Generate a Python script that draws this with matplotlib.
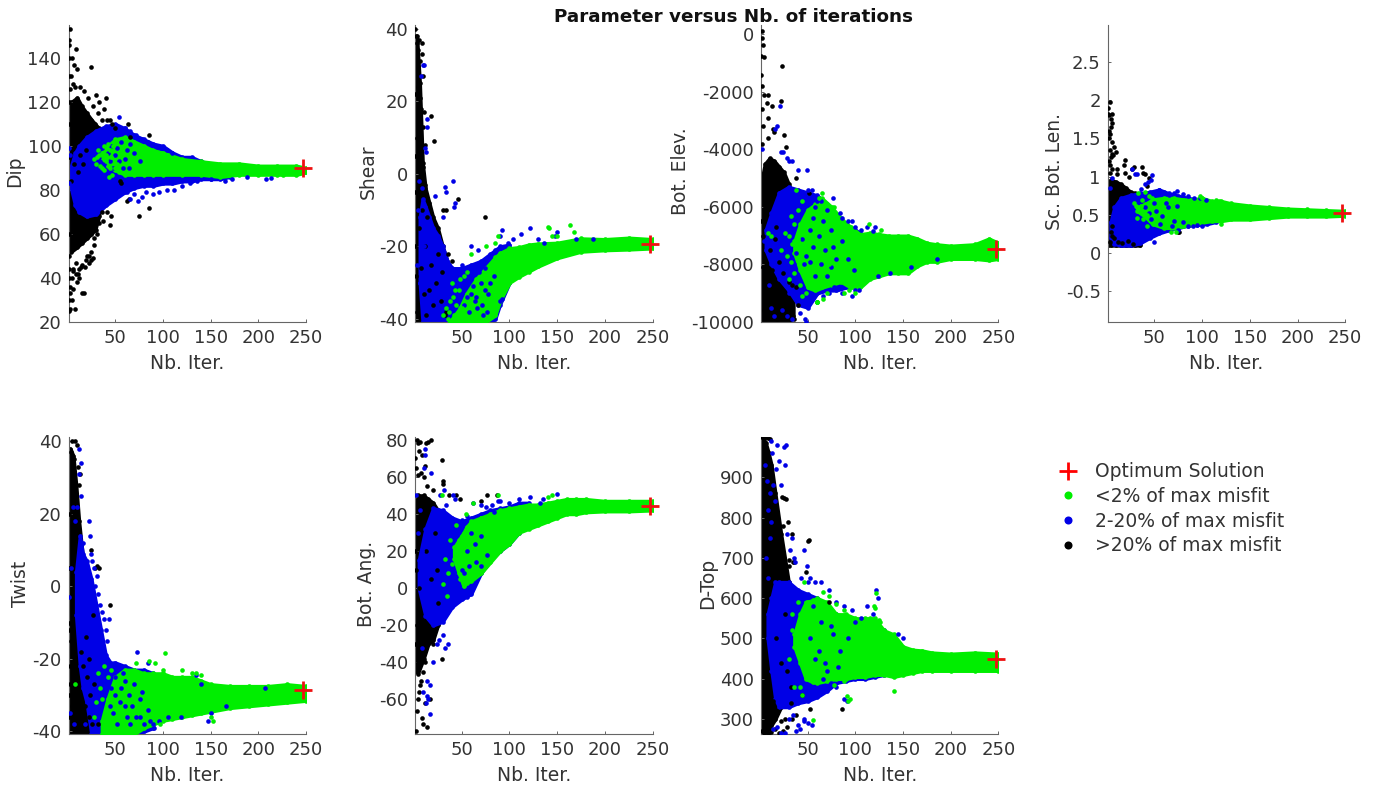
import matplotlib
matplotlib.use("Agg")
import matplotlib.pyplot as plt
from matplotlib.lines import Line2D

GREEN = "#00ee00"
BLUE = "#0000e6"
BLACK = "#000000"

# every band is (iteration, low, high); dots are (iteration, value)
DIP_BLACK_BAND = ([1,4,10,15,20,25,29,33], [52,52,54,56,58,60,62,68], [112,120,122,118,115,112,110,108])
DIP_BLUE_BAND = ([3,8,12,20,30,40,50,60,70,80,90,100,110,120,130,140,150,160,170],
                 [82,73,70,68,69,73,76,79,81,82,82,83,83,84,84,85,85,85,86],
                 [90,97,100,104,107,109,110,108,105,103,101,100,97,95,95,93,92,91,89])
DIP_GREEN_BAND = ([36,42,50,60,70,80,90,100,120,140,160,180,200,220,240,250],
                  [95,91,89,87,87,87,87,87,87,87,86,87,87,87,87,88],
                  [97,100,103,104,102,100,98,97,94,93,92,92,91,91,91,90])
DIP_BLACK_DOTS = ([1,1,1,1,1,1,1,1,3,5,7,9,10,25,4,6,30,40,33,38,45,63,85,66,47,50,85,75,45,46,41,36,30,28,27,25,17,15,8,3,1,5,6,3,5,9,12,14,10,18,20,22,25,62,64,56,55,2,2,4,7,11,13,16,19,1,3,6,9,12,3,8,13,17,21,27,32,36,41,2,6,11,15,19,23,28,31,33,37],
                  [148,140,132,120,60,50,40,30,153,140,137,144,135,136,132,128,123,122,120,117,112,110,105,104,110,108,72,68,64,68,70,70,62,55,49,48,33,33,26,26,25,30,35,33,40,42,40,45,38,45,50,47,52,75,76,83,84,146,110,84,92,88,96,92,98,95,36,44,47,44,126,127,127,125,122,118,115,112,112,44,43,42,46,48,50,58,60,65,66])
DIP_BLUE_DOTS = ([54,60,66,72,78,84,92,98,104,110,62,66,70,74,78,82,90,96,104,112,120,128,136,150,165,172,188,208,213,2,3,1,38,42,46,50,44,52,56,60,48,54,62,58,66,40,64,70,76,36,33],
                 [113,108,107,105,103,102,100,99,98,97,79,76,78,75,77,79,78,79,80,80,82,83,84,85,84,85,86,85,85.5,99,96,83,92,97,100,96,93,99,102,94,90,93,98,90,101,88,90,97,93,99,95])
DIP_GREEN_DOTS = ([28,32,34,36,38,40,42,44,36,40,33,226,46,48,52,50,44,30,31,38,47,54,43],
                  [94,98,91,96,100,93,101,90,90,96,96,87,95,100,92,90,98,92,95,89,87,88,86])

SHEAR_BLACK_BAND = ([1,3,6,9,12,16,20,25,30,36],
                    [-40.8,-40.8,-40.8,-40.8,-40.8,-40.8,-40.8,-40.8,-40.8,-40.8],
                    [30,38,25,3,-4,-8,-12,-15,-20,-25])
SHEAR_BLUE_BAND = ([6,9,12,16,20,25,30,35,40,50,60,70,80,85,90,100],
                   [-30,-40.8,-40.8,-40.8,-40.8,-40.8,-40.8,-40.8,-40.8,-40.8,-40.8,-40.8,-40.8,-40,-36,-30],
                   [-12,-7,-9,-12,-15,-17,-20,-24,-26,-26,-25,-24,-22,-21,-20,-19.5])
SHEAR_GREEN_BAND = ([38,48,55,65,75,85,90,100,110,120,130,150,175,200,225,250],
                    [-40.8,-40.8,-40.8,-40.8,-40.8,-39,-35,-30,-28.3,-26.9,-25.5,-23.2,-21.4,-21,-20.8,-20.5],
                    [-40.5,-37,-33,-29,-26,-23,-21.8,-20.5,-20.2,-19.5,-19.2,-19,-17.8,-18,-17.6,-18])
SHEAR_BLACK_DOTS = ([1,2,3,4,5,6,8,8,9,4,6,7,9,10,11,18,21,6,9,30,34,46,74,40,36,3,2,1,1,3,5,7,10,13,1,1,11,14,18,23,28,32,8,12,16,20,25,29,34],
                    [40,38,36,34,37,31,36,33,27,24,21,18,13,17,8,16,9,4,2,-10,-10,-7,-12,-24,-22,-38,-28,-5,-20,10,-15,-26,-33,-39,22,5,-3,-12,-25,-30,-35,-39,-10,-20,-32,-36,-22,-27,-38])
SHEAR_BLUE_DOTS = ([9,10,7,14,14,13,11,41,32,33,22,43,42,30,50,60,67,74,90,92,98,104,112,122,130,136,150,148,170,188,90,92,42,52,60,66,72,46,56,64,70,76,5,8,4,10,3,6,55,62,68,74,80,50,58,65,71,78,84],
                   [30,30,27,15,13,6,7,-2,-3.5,-5,-6,-8,-9,-12,-25,-20,-21,-26,-17,-15.5,-19,-18,-16.5,-15,-18,-19,-16,-17,-18,-18,-35,-34.5,-31,-36,-33,-37,-39,-28,-29,-35,-30,-38,-2,-4,-10,-20,-25,-30,-34,-31,-27,-32,-30,-30,-38,-34,-36,-33,-28])
SHEAR_GREEN_DOTS = ([37,41,44,47,50,46,42,36,40,75,85,88,140,142,163,168,150,145,60,33,38,43,48,52,55,30],
                    [-38,-34,-36,-32,-37,-40,-39,-40,-30,-20,-19,-17,-14.5,-15,-14,-16,-17,-17,-22,-37,-35,-32,-29,-28,-27,-39])

ELEV_BLACK_BAND = ([1,5,10,15,20,25,30,35],
                   [-10000,-10000,-10000,-10000,-10000,-10000,-10000,-9800],
                   [-5200,-4500,-4300,-4400,-4600,-4800,-5200,-5600])
ELEV_BLUE_BAND = ([6,12,20,30,40,50,60,70,80,90,100,110,120],
                  [-7500,-8000,-8500,-8900,-9400,-9500,-9000,-8900,-8900,-8800,-8700,-8500,-8300],
                  [-6800,-6200,-5500,-5300,-5400,-5500,-5600,-5900,-6300,-6600,-6800,-7000,-7100])
ELEV_GREEN_BAND = ([36,42,50,58,65,75,85,95,105,115,125,135,145,155,165,175,185,200,225,240,250],
                   [-7600,-8200,-8800,-8900,-8800,-8700,-8600,-8800,-8800,-8500,-8400,-8300,-8300,-8300,-8050,-7900,-7900,-7800,-7800,-7850,-7800],
                   [-7200,-6600,-6100,-5900,-5700,-6000,-6400,-6700,-6950,-6900,-6950,-7000,-7000,-7000,-7100,-7250,-7300,-7350,-7300,-7100,-7250])
ELEV_BLACK_DOTS = ([2,2,3,1,1,4,2,4,2,8,13,8,7,3,23,15,22,8,2,14,25,27,1,3,5,10,13,17,20,24,28,30,32,4,8,12,16,20,25,32,38,38,51,16,20,24,7,3,11,18,33,36,40],
                   [120,-120,-350,-750,-1400,-800,-1800,-2100,-2600,-2900,-2500,-2100,-2400,-3200,-1100,-3400,-2300,-3600,-3800,-3300,-3500,-3900,-6500,-7000,-6000,-7500,-8200,-6700,-8800,-9100,-9500,-8600,-9900,-9600,-9200,-8900,-9400,-9700,-9800,-9300,-8800,-5000,-5500,-7100,-7900,-8300,-8500,-8100,-9600,-9900,-8700,-9900,-9400])
ELEV_BLUE_DOTS = ([21,18,16,22,24,28,30,34,40,49,50,54,60,64,70,76,84,86,92,96,100,106,112,118,120,60,66,72,78,86,96,100,104,124,136,158,186,52,56,48,44,46,40,38,36,30,42,47,2,4,12,9,15,23,28,34,48,56,62,68,74,80,86,52,58,64,70,76,92,98,58,66,74],
                  [-2500,-3200,-3300,-4100,-4100,-4300,-4400,-4400,-4700,-4700,-5400,-5400,-5800,-5800,-6100,-5700,-6200,-6400,-6500,-6500,-6700,-6800,-6700,-6850,-6700,-9300,-9100,-9000,-8800,-9000,-9100,-8900,-8900,-8400,-8300,-8100,-7800,-6800,-7400,-7700,-7100,-8000,-8500,-7600,-8000,-9000,-9700,-9900,-4000,-7200,-9500,-8700,-9800,-9600,-9800,-9900,-10000,-6400,-7000,-7500,-6800,-7800,-7200,-7900,-8400,-8000,-8400,-7400,-7800,-8200,-6000,-6500,-8100])
ELEV_GREEN_DOTS = ([38,40,36,34,32,44,60,62,65,66,70,88,93,100,114,127,60,58,8,12,22,30,26,72,60,78,28,32,40,44,30,36,42,48],
                   [-5400,-7100,-6600,-7300,-7900,-9100,-9300,-5700,-5500,-9200,-9000,-9000,-8900,-9000,-6600,-6800,-9300,-6600,-6900,-7000,-7500,-7000,-6900,-8000,-9300,-6000,-7700,-6300,-6100,-5800,-8500,-8300,-8700,-9000])

SC_BLACK_BAND = ([1,4,10,15,20,25,30,35], [.1,.1,.1,.1,.1,.1,.1,.1], [.9,.96,.93,.9,.85,.8,.78,.72])
SC_BLUE_BAND = ([4,8,15,25,35,45,55,65,75,85,95,105,115],
                [.2,.12,.1,.1,.13,.2,.26,.3,.33,.36,.37,.38,.41],
                [.4,.6,.72,.76,.78,.8,.83,.78,.75,.72,.7,.68,.64])
SC_GREEN_BAND = ([32,40,48,60,70,80,90,100,110,120,130,150,170,190,210,230,250],
                 [.55,.48,.38,.33,.33,.35,.37,.4,.42,.42,.44,.44,.46,.48,.48,.48,.49],
                 [.6,.64,.7,.72,.72,.7,.7,.72,.68,.68,.65,.62,.6,.58,.57,.56,.55])
SC_BLACK_DOTS = ([3,1,1,2,4,5,2,4,6,2,3,6,5,3,10,8,2,4,3,5,19,18,11,11,19,27,29,37,38,23,40,44,42,7,3,3,5,4,6,8,12,75,76,16,22,28],
                 [1.98,1.9,1.82,1.8,1.75,1.7,1.6,1.65,1.82,1.5,1.55,1.45,1.3,1.35,1.32,1.38,1.2,1.25,1.15,1.1,1.22,1.15,1.03,1.1,1.05,1.1,1.12,1.12,1.05,1.0,1.03,.98,.88,1.28,1.05,.14,.22,.28,.35,.2,.15,.27,.28,.13,.16,.12])
SC_BLUE_DOTS = ([26,30,32,47,46,43,40,36,50,55,60,65,70,74,80,85,92,98,104,75,85,90,95,100,50,3,6,40,46,52,58,64,70,44,50,56,62,68,74,80],
                [1.1,1.04,1.04,1.02,.96,.93,.9,.84,.78,.82,.8,.76,.78,.81,.77,.75,.72,.72,.7,.3,.36,.35,.37,.36,.14,.85,.98,.6,.45,.55,.48,.6,.42,.52,.65,.38,.66,.36,.62,.4])
SC_GREEN_DOTS = ([33,37,40,34,29,31,36,67,73,98,100,115,118,120,38,42,32,44,47,42],
                 [.78,.7,.8,.58,.66,.62,.62,.27,.27,.74,.72,.7,.68,.38,.45,.5,.46,.75,.72,.36])

TWIST_BLACK_BAND = ([1,3,6,9,12,16,20,24,28,33],
                    [-40.7,-40.7,-40.7,-40.7,-40.7,-40.7,-40.7,-40.7,-40.7,-40.7],
                    [34,38,36,28,18,8,0,-8,-14,-22])
TWIST_BLUE_BAND = ([9,13,16,20,25,30,35,40,45,50,60,70,80,90],
                   [-8,-22,-28,-32,-40.7,-40.7,-40.7,-40.7,-40.7,-40.7,-40.7,-40.7,-40,-39],
                   [4,14,9,7,2,-5,-12,-19,-21,-21,-22,-23,-23,-24])
TWIST_GREEN_BAND = ([36,42,50,60,70,80,90,100,110,120,130,140,150,170,190,210,230,250],
                    [-40.7,-40.7,-40.7,-40.7,-40.7,-39,-38,-37,-36.5,-36,-35.5,-35,-34.5,-33.5,-33,-32.5,-32,-31.5],
                    [-37,-31,-25,-23,-23,-24,-24,-24,-25,-25,-25,-26,-27,-27.5,-27.5,-27.5,-27,-27.5])
TWIST_BLACK_DOTS = ([5,8,10,4,7,11,13,12,29,31,33,45,27,25,2,3,1,1,1,3,5,9,12,18,22,26,4,7,10,20,24,1,1,14,16,19,23,28,32],
                    [40,40,39,37,35,33,31,28,5,5.5,5,-5,-8,10,-12,-22,-30,-36,20,-27,-33,-38,-37,-33,-36,-38,-15,-25,-36,-25,-30,5,-10,-18,-22,-14,-20,-27,-38])
TWIST_BLUE_DOTS = ([12,14,12,14,10,8,22,24,25,26,28,31,34,36,38,40,41,43,29,32,73,84,90,91,96,105,119,147,166,207,140,76,80,86,4,2,3,6,16,18,7,50,56,62,68,58,48,64,52,60,135,150,55,70,76,46,66,72,44,50,60,78,84],
                   [38,34,31,25,22,18,18,14,9,7,5,3,-5,-7,-9,-12,-15,-9,0,-2,-18,-21,-38,-39,-37,-36,-36,-37,-33,-28,-27,-36,-38,-37,5,-3,-35,22,12,-38,-38,-30,-28,-36,-33,-24,-35,-30,-38,-26,-24.5,-35,-32,-27,-31,-28,-38,-36,-33,-25,-33,-29,-34])
TWIST_GREEN_DOTS = ([102,92,85,72,100,120,135,150,152,97,38,34,40,30,44,8,130,140,32,36,42,46,28],
                    [-18.5,-21,-20.5,-21,-23,-23,-24,-36,-37,-38,-22,-28,-34,-32,-36,-27,-24,-24.5,-24,-31,-25,-23,-36])

ANG_BLACK_BAND = ([1,4,10,15,20,25,30], [-44,-46,-38,-30,-28,-20,-15], [42,50,50,48,46,42,40])
ANG_BLUE_BAND = ([5,12,20,30,40,50,60,70,80,90,100,110,120],
                 [0,-15,-20,-18,-10,-6,-3,8,15,20,24,30,34],
                 [15,32,43,42,38,36,38,40,42,43,44,46,46])
ANG_GREEN_BAND = ([42,47,52,55,60,70,80,90,100,110,120,130,140,150,160,170,180,200,225,250],
                  [16,8,1,3,4,8,14,20,24,30,32,34,36,38,40,40,41,41.5,41.5,42],
                  [22,26,30,33,36,38,40,42,43,44,45,45,46,47,48,48,48,47,47,47])
ANG_BLACK_DOTS = ([3,4,6,13,15,18,29,30,5,8,11,2,4,7,10,14,20,30,37,44,48,70,76,87,29,1,2,3,4,5,6,7,8,9,11,14,17,1,1,1,4,9,7,3,2,5,20,12,16,13,18,22,25,24],
                  [80,78,79,78,79,80,69,58,74,72,66,65,61,62,60,55,53,56,50,50,48,47,50,50,-38,-80,-77,-66,-60,-56,-52,-50,-70,-73,-62,-75,-60,70,20,-30,-40,-45,-35,-20,10,0,-30,-40,-28,20,5,30,-8,10])
ANG_BLUE_DOTS = ([11,12,10,18,27,31,34,41,43,50,56,62,70,75,82,88,84,90,100,110,122,135,150,132,14,17,14,15,13,9,17,20,24,26,30,32,36,2,4,8,36,45,55,40,50,21,30,55,60,65,70,76,52,58,64,70,8,6],
                 [75,72,65,62,50,53,45,50,48,37,39,46,45,44,45,47,41,47,46,48,49,48,51,46,-50,-52,-58,-60,-62,-56,-68,-40,-30,-28,-25,-32,-30,50,30,-32,15,5,-5,0,10,-10,-5,20,30,14,28,18,8,12,24,12,20,42])
ANG_GREEN_DOTS = ([29,54,62,88,140,145,70,40,45,36,30,48,50,32,38,44,35],
                  [50,40,46,50,49,50,38,13,22,8,2,5,28,16,26,34,-4])

TOP_BLACK_BAND = ([1,3,6,9,12,16,22,30], [300,265,270,275,285,300,330,400], [920,1000,985,960,930,860,760,640])
TOP_BLUE_BAND = ([8,12,16,20,30,40,50,60,70,80,90,100,110,120,130,140,150],
                 [500,420,350,330,330,340,345,355,370,390,395,400,400,405,410,415,425],
                 [560,600,640,640,640,620,610,600,580,560,550,540,540,530,520,500,465])
TOP_GREEN_BAND = ([36,42,48,55,60,70,80,90,100,110,120,130,140,150,160,170,180,200,225,250],
                  [480,440,400,392,390,395,400,400,405,405,410,410,405,410,415,420,420,420,420,420],
                  [510,560,590,595,600,590,560,560,550,550,550,520,510,480,472,470,465,462,465,462])
TOP_BLACK_DOTS = ([2,4,6,8,10,23,25,27,24,29,30,35,50,51,48,34,30,36,86,72,5,8,11,16,20,24,28,33,38,6,10,14,18,22,26,32,44,52,4,8,12,2,17,22,26,28,32],
                  [1000,998,1000,998,995,850,848,845,780,790,695,690,742,745,665,760,680,690,325,590,270,265,268,275,265,270,280,300,310,350,330,345,320,295,300,340,360,325,260,262,290,270,500,440,560,420,380])
TOP_BLUE_DOTS = ([11,13,18,25,27,20,17,14,26,10,8,12,16,22,28,34,31,36,37,46,49,52,43,46,50,58,64,72,80,88,96,100,106,112,118,122,124,145,150,88,91,66,74,80,46,50,54,42,38,30,26,22,18,14,35,40,46,5,7,10,6,8,52,58,64,70,76,84,56,62,68,74,82,92],
                 [990,960,980,975,980,940,920,880,930,860,820,790,840,880,760,750,720,700,690,720,680,650,650,600,640,640,640,620,590,580,570,540,550,580,560,620,600,510,500,350,345,400,390,380,300,290,285,275,270,300,265,265,280,275,310,285,295,930,890,750,700,650,500,450,540,420,510,470,580,470,440,530,430,500])
TOP_GREEN_DOTS = ([122,119,120,115,125,126,94,91,92,55,50,66,72,80,88,118,46,44,38,42,34,140,88,78,30,33,40,36,44],
                  [612,580,575,550,545,540,350,357,345,297,590,615,605,585,570,530,640,545,500,380,560,370,395,385,450,520,590,380,360])

OPT_ITER = 247
PANELS = [
    ("Dip", 90, (20,155), [20,40,60,80,100,120,140], (68.5,25), DIP_BLACK_BAND, DIP_BLUE_BAND, DIP_GREEN_BAND, DIP_BLACK_DOTS, DIP_BLUE_DOTS, DIP_GREEN_DOTS, 15),
    ("Shear", -19.3, (-40.8,41), [-40,-20,0,20,40], (415,25), SHEAR_BLACK_BAND, SHEAR_BLUE_BAND, SHEAR_GREEN_BAND, SHEAR_BLACK_DOTS, SHEAR_BLUE_DOTS, SHEAR_GREEN_DOTS, 368),
    ("Bot. Elev.", -7450, (-10000,330), [-10000,-8000,-6000,-4000,-2000,0], (761,25), ELEV_BLACK_BAND, ELEV_BLUE_BAND, ELEV_GREEN_BAND, ELEV_BLACK_DOTS, ELEV_BLUE_DOTS, ELEV_GREEN_DOTS, 681),
    ("Sc. Bot. Len.", 0.52, (-0.9,2.98), [-0.5,0,0.5,1,1.5,2,2.5], (1107.7,25), SC_BLACK_BAND, SC_BLUE_BAND, SC_GREEN_BAND, SC_BLACK_DOTS, SC_BLUE_DOTS, SC_GREEN_DOTS, 1054),
    ("Twist", -28.5, (-40.7,41.2), [-40,-20,0,20,40], (68.5,437), TWIST_BLACK_BAND, TWIST_BLUE_BAND, TWIST_GREEN_BAND, TWIST_BLACK_DOTS, TWIST_BLUE_DOTS, TWIST_GREEN_DOTS, 20),
    ("Bot. Ang.", 44.5, (-78.6,81.5), [-60,-40,-20,0,20,40,60,80], (415,437), ANG_BLACK_BAND, ANG_BLUE_BAND, ANG_GREEN_BAND, ANG_BLACK_DOTS, ANG_BLUE_DOTS, ANG_GREEN_DOTS, 367),
    ("D-Top", 450, (263,1000), [300,400,500,600,700,800,900], (761,437), TOP_BLACK_BAND, TOP_BLUE_BAND, TOP_GREEN_BAND, TOP_BLACK_DOTS, TOP_BLUE_DOTS, TOP_GREEN_DOTS, 708),
]
XTICKS = [50,100,150,200,250]
LEGEND_LABELS = ["Optimum Solution", "<2% of max misfit", "2-20% of max misfit", ">20% of max misfit"]

W, H = 1380, 790
fig = plt.figure(figsize=(W/100, H/100), dpi=100, facecolor="white")
AW, AH = 237.5, 297
TXT = "#333333"
SP = "#666666"
DOT = 11

def band(ax, b, color, z):
    x, lo, hi = b
    ax.fill_between(x, lo, hi, color=color, lw=2.5, zorder=z)
    ax.scatter(x, lo, s=DOT, c=color, lw=0, zorder=z)
    ax.scatter(x, hi, s=DOT, c=color, lw=0, zorder=z)

for name, opt, yl, yt, (px, py), bb, bu, bg, db, du, dg, lab_x in PANELS:
    ax = fig.add_axes([px/W, 1-(py+AH)/H, AW/W, AH/H])
    ax.set_xlim(1, 250)
    ax.set_ylim(*yl)
    band(ax, bb, BLACK, 1)
    band(ax, bu, BLUE, 2)
    band(ax, bg, GREEN, 3)
    ax.scatter(*db, s=DOT, c=BLACK, lw=0, zorder=4)
    ax.scatter(*du, s=DOT, c=BLUE, lw=0, zorder=5)
    ax.scatter(*dg, s=DOT, c=GREEN, lw=0, zorder=6)
    ax.plot([OPT_ITER], [opt], marker="+", ms=13, mew=2, color="#ee1111", zorder=7, ls="none", clip_on=False)
    for s in ("top", "right"):
        ax.spines[s].set_visible(False)
    for s in ("left", "bottom"):
        ax.spines[s].set_color(SP)
        ax.spines[s].set_linewidth(0.8)
    ax.set_xticks(XTICKS)
    ax.set_yticks(yt)
    ax.set_yticklabels([f"{v:g}" for v in yt])
    ax.tick_params(direction="in", length=2.5, width=0.7, color=SP, labelsize=13, labelcolor=TXT, pad=5)
    ax.set_xlabel("Nb. Iter.", fontsize=13.5, color=TXT, labelpad=5)
    fig.text(lab_x/W, 1-(py+AH/2-2)/H, name, rotation=90, fontsize=13.5, color=TXT, ha="center", va="center")

fig.text(733/W, 1-17/H, "Parameter versus Nb. of iterations", fontsize=13.2, fontweight="bold", color="#111111", ha="center", va="center")

handles = [
    Line2D([], [], ls="none", marker="+", ms=13.5, mew=2, color="red"),
    Line2D([], [], ls="none", marker="o", ms=5.8, color=GREEN, mew=0),
    Line2D([], [], ls="none", marker="o", ms=5.8, color=BLUE, mew=0),
    Line2D([], [], ls="none", marker="o", ms=5.8, color=BLACK, mew=0),
]
fig.legend(handles, LEGEND_LABELS, loc="upper left", bbox_to_anchor=(1044/W, 1-453/H), frameon=False,
           fontsize=13.5, labelcolor=TXT, labelspacing=0.3, handletextpad=0.6, borderpad=0, handlelength=1.6)

fig.savefig("out.png", dpi=100)
